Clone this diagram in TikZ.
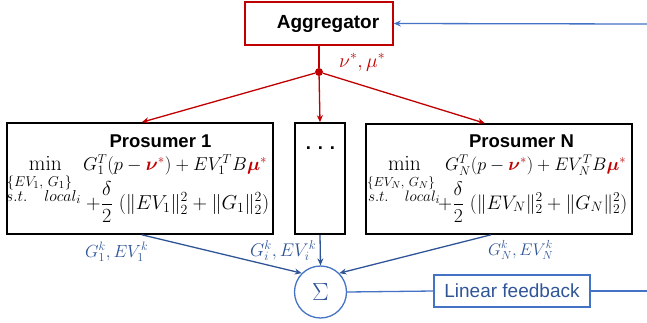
\documentclass[tikz,border=0pt]{standalone}
\usepackage{amsmath}
\usepackage{amssymb}
\usepackage{graphicx}
\usepackage[no-math]{fontspec}
\setmainfont{Liberation Sans}
\usetikzlibrary{arrows.meta,calc}
\definecolor{aggred}{RGB}{192,0,0}
\definecolor{fbblue}{RGB}{68,114,196}
\definecolor{darkblue}{RGB}{47,85,151}
\newcommand{\rnu}{{\color{aggred}\boldsymbol{\nu}^{*}}}
\newcommand{\rmu}{{\color{aggred}\boldsymbol{\mu}^{*}}}
\newcommand{\fitto}[2]{\resizebox{#1}{!}{$#2$}}

\begin{document}
\begin{tikzpicture}[x=1pt,y=-1pt,
  box/.style={draw,line width=1.6pt,inner sep=0pt},
  title/.style={font=\fontsize{18.5}{20}\selectfont\bfseries,inner sep=0pt},
  eq/.style={font=\fontsize{18}{20}\selectfont,inner sep=0pt},
  small/.style={font=\fontsize{15.5}{16}\selectfont,inner sep=0pt},
  lab/.style={font=\fontsize{18}{19}\selectfont,inner sep=0pt},
  redline/.style={aggred,line width=1.3pt,-{Stealth[length=7pt,width=6pt]}},
  blueline/.style={darkblue,line width=1.3pt,-{Stealth[length=7pt,width=6pt]}}]
  \useasboundingbox (0,0) rectangle (647,322);
  \coordinate (inR) at (647,24);
  \coordinate (outR) at (647,291);

  % aggregator and split point
  \node[box,draw=aggred,minimum width=148pt,minimum height=43pt,
        font=\fontsize{19}{20}\selectfont\bfseries] (agg) at (319,23.5) {\hspace*{18pt}Aggregator};
  \node[circle,fill=aggred,inner sep=0pt,minimum size=8pt] (split) at (319,72) {};
  \node[lab,anchor=base west,text=aggred] (nulab) at (339,67) {\fitto{46pt}{\nu^{*},\mu^{*}}};

  % prosumer boxes
  \node[box,minimum width=266pt,minimum height=111pt] (pro1) at (140,178.5) {};
  \node[box,minimum width=50pt,minimum height=111pt] (dots) at (320,178.5) {};
  \node[box,minimum width=266pt,minimum height=110pt] (proN) at (499,179) {};

  \node[title,anchor=base] (t1) at (160.5,147) {Prosumer 1};
  \node[title,anchor=base] (tN) at (521.5,147) {Prosumer N};
  \node[title,anchor=base] (tdots) at (320.5,149) {. . .};

  % prosumer 1 problem
  \node[eq,anchor=base] (min1) at (45.5,170) {\fitto{33pt}{\min}};
  \node[small] (sub1) at (39.5,183) {\fitto{65pt}{\{EV_1,\,G_1\}}};
  \node[small] (st1) at (43.5,197) {\fitto{75pt}{s.t.\quad local_i}};
  \node[eq,anchor=base west] (obj1) at (83,170)
    {\fitto{184pt}{G_1^T(p-\rnu)+EV_1^T B\rmu}};
  \node[eq,anchor=base west] (reg1) at (86,209)
    {\fitto{183pt}{+\dfrac{\delta}{2}\ (\|EV_1\|_2^2+\|G_1\|_2^2)}};

  % prosumer N problem
  \node[eq,anchor=base] (minN) at (404.5,170) {\fitto{33pt}{\min}};
  \node[small] (subN) at (401,183) {\fitto{68pt}{\{EV_N,\,G_N\}}};
  \node[small] (stN) at (404,197) {\fitto{72pt}{s.t.\quad local_i}};
  \node[eq,anchor=base west] (objN) at (445,170)
    {\fitto{181pt}{G_N^T(p-\rnu)+EV_N^T B\rmu}};
  \node[eq,anchor=base west] (regN) at (438,209)
    {\fitto{189pt}{+\dfrac{\delta}{2}\ (\|EV_N\|_2^2+\|G_N\|_2^2)}};

  % sum and feedback
  \node[circle,draw=fbblue,line width=1.3pt,minimum size=52pt,inner sep=0pt,
        text=darkblue,font=\fontsize{28}{28}\selectfont] (sum) at (320.5,292) {$\Sigma$};
  \node[draw=fbblue,line width=1.3pt,minimum width=156pt,minimum height=32pt,inner sep=0pt,
        text=darkblue,font=\fontsize{19}{20}\selectfont] (lin) at (512,291) {Linear feedback};

  \node[lab,anchor=base west,text=darkblue] (g1lab) at (85,257) {\fitto{63pt}{G_1^k,EV_1^k}};
  \node[lab,anchor=base west,text=darkblue] (gilab) at (250,256) {\fitto{66pt}{G_i^k,EV_i^k}};
  \node[lab,anchor=base west,text=darkblue] (gNlab) at (488,255) {\fitto{65pt}{G_N^k,EV_N^k}};

  % connectors
  \draw[aggred,line width=1.3pt] (agg.south) -- (split);
  \draw[redline] (split) -- ($(pro1.north west)!0.507!(pro1.north east)$);
  \draw[redline] (split) -- (dots.north);
  \draw[redline] (split) -- ($(proN.north west)!0.447!(proN.north east)$);

  \draw[blueline] ($(pro1.south west)!0.507!(pro1.south east)$) -- (sum.135);
  \draw[blueline] (dots.south) -- (sum.north);
  \draw[blueline] ($(proN.south west)!0.47!(proN.south east)$) -- (sum.45);

  \draw[fbblue,line width=1.3pt] (sum.east) -- (lin.west);
  \draw[fbblue,line width=1.3pt] (lin.east) -- (outR);
  \draw[fbblue,line width=1.3pt,-{Stealth[length=7pt,width=6pt]}] (inR) -- (agg.east);
\end{tikzpicture}
\end{document}
